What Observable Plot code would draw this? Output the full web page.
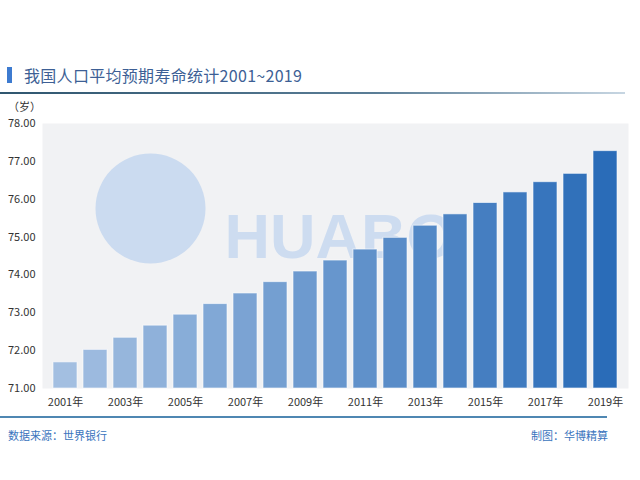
<!DOCTYPE html>
<html>
<head>
<meta charset="utf-8">
<script src="https://cdn.jsdelivr.net/npm/d3@7"></script>
<script src="https://cdn.jsdelivr.net/npm/@observablehq/plot@0.6"></script>
<style>
  html, body { margin: 0; padding: 0; background: #ffffff; }
  body { width: 640px; height: 480px; position: relative; overflow: hidden;
         font-family: "Noto Sans CJK SC", "Noto Sans", sans-serif; }
  #title { position: absolute; left: 0; top: 63px; height: 24px; line-height: 24px;
           font-size: 16px; color: #3d5f95; padding-left: 24px; letter-spacing: 0.3px; }
  #title::before { content: ""; position: absolute; left: 7px; top: 4px; width: 5px; height: 16px; background: #3d7bd0; }
  #topline { position: absolute; left: 0; top: 92px; width: 625px; height: 2px;
             background: linear-gradient(to right, #2f566f, #5a7d96 60%, #c7d6e2); }
  #unit { position: absolute; left: 8px; top: 98px; font-size: 11px; color: #333; }
  #chart { position: absolute; left: 0; top: 100px; }
  #bottomline { position: absolute; left: 0; top: 416px; width: 607px; height: 2px; background: #4f87b2; }
  .foot { position: absolute; top: 427px; font-size: 11px; color: #3a74bd; }
</style>
</head>
<body>
<div id="title">我国人口平均预期寿命统计2001~2019</div>
<div id="topline"></div>
<div id="unit">（岁）</div>
<div id="chart"></div>
<div id="bottomline"></div>
<div class="foot" style="left:8px">数据来源：世界银行</div>
<div class="foot" style="left:531px">制图：华博精算</div>
<script>
const years = [2001, 2002, 2003, 2004, 2005, 2006, 2007, 2008, 2009, 2010,
               2011, 2012, 2013, 2014, 2015, 2016, 2017, 2018, 2019];
const lifeExpectancy = [71.69, 72.02, 72.34, 72.66, 72.95, 73.23, 73.51, 73.81, 74.09, 74.38,
                        74.67, 74.98, 75.30, 75.60, 75.90, 76.18, 76.45, 76.67, 77.27];
const yTicks = [71, 72, 73, 74, 75, 76, 77, 78];
const xTickYears = [2001, 2003, 2005, 2007, 2009, 2011, 2013, 2015, 2017, 2019];
const colorRange = ["#a3bfe1", "#2a6cb8"];
const watermarkText = ["HUABO"];

const data = years.map((year, i) => ({year, value: lifeExpectancy[i]}));

const chart = Plot.plot({
  width: 640,
  height: 320,
  marginLeft: 42,
  marginRight: 12,
  marginTop: 23,
  marginBottom: 32,
  style: {fontFamily: '"Noto Sans CJK SC", "Noto Sans", sans-serif', fontSize: "11px", color: "#333", background: "transparent"},
  x: {type: "band", domain: years, paddingInner: 0.2, paddingOuter: 0.08, label: null},
  y: {domain: [71, 78], label: null},
  color: {type: "linear", domain: [years[0], years[years.length - 1]], range: colorRange},
  marks: [
    Plot.frame({fill: "#f1f2f4", stroke: null}),
    Plot.dot([0], {frameAnchor: "top-left", dx: 108, dy: 85, r: 55, fill: "#cbdbf0", stroke: null}),
    Plot.text(watermarkText, {frameAnchor: "top-left", dx: 182, dy: 90, text: d => d, textAnchor: "start",
      fontSize: 63, fontWeight: "bold", fill: "#cddcf0", fontFamily: "'Liberation Sans', Arial, sans-serif"}),
    Plot.barY(data, {x: "year", y1: 71, y2: "value", fill: "year", stroke: "#ffffff", strokeOpacity: 0.6, strokeWidth: 1}),
    Plot.axisY({ticks: yTicks, tickFormat: d => d.toFixed(2), tickSize: 0, tickPadding: 7, fill: "#333"}),
    Plot.axisX({ticks: xTickYears, tickFormat: d => `${d}年`, tickSize: 0, tickPadding: 10, fill: "#333"})
  ]
});
document.getElementById("chart").appendChild(chart);
</script>
</body>
</html>
